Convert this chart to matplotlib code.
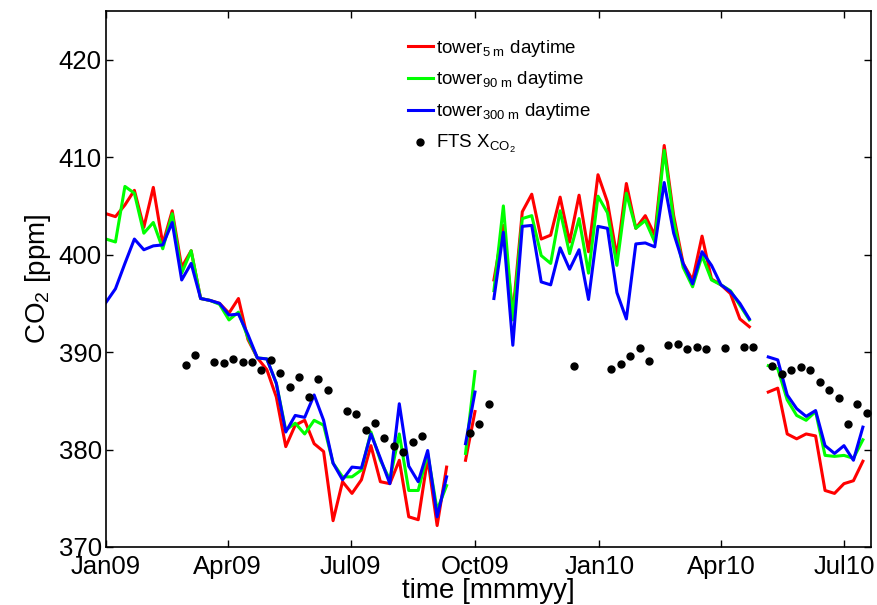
import numpy as np
import pandas as pd
import matplotlib
matplotlib.use('Agg')
import matplotlib.pyplot as plt
import matplotlib.dates as mdates

plt.rcParams['font.family'] = ['Liberation Sans', 'DejaVu Sans']
plt.rcParams['mathtext.fontset'] = 'custom'
plt.rcParams['mathtext.rm'] = 'Liberation Sans'
plt.rcParams['mathtext.it'] = 'Liberation Sans:italic'
plt.rcParams['mathtext.bf'] = 'Liberation Sans:bold'

nan = np.nan

# tower data, weekly from 2009-01-01 (gaps = nan)
t_start = '2009-01-01'
n_weeks = 81

co2_5m = [404.2, 403.9, 405.1, 406.6, 402.8, 406.9, 401.1, 404.5, 398.7, 400.4,
          395.5, 395.3, 395.0, 394.0, 395.5, 391.3, 389.4, 388.2, 385.4, 380.3,
          382.5, 383.0, 380.6, 379.8, 372.7, 376.7, 375.5, 376.9, 380.4, 376.7,
          376.5, 378.9, 373.1, 372.8, 379.1, 372.2, 378.2, nan, 378.9, 383.9,
          nan, 397.4, 403.0, 393.9, 404.4, 406.2, 401.6, 402.0, 405.9, 401.3,
          406.1, 400.3, 408.2, 405.4, 399.8, 407.3, 402.7, 404.0, 402.0, 411.2,
          404.0, 399.1, 397.4, 401.9, 397.5, 396.9, 396.0, 393.4, 392.6, nan,
          385.9, 386.3, 381.6, 381.1, 381.6, 381.4, 375.8, 375.5, 376.5, 376.8,
          378.8]

co2_90m = [401.6, 401.3, 407.0, 406.3, 402.2, 403.3, 400.6, 404.2, 398.1, 400.4,
           395.5, 395.3, 394.9, 393.3, 394.1, 391.5, 389.4, 389.3, 386.8, 382.0,
           382.7, 381.6, 383.0, 382.5, 378.6, 377.2, 377.2, 377.9, 381.8, 378.9,
           376.9, 381.6, 375.8, 375.8, 379.6, 373.8, 376.3, nan, 379.6, 388.0,
           nan, 396.3, 405.0, 393.3, 403.7, 404.0, 399.9, 399.1, 404.5, 400.1,
           403.7, 398.1, 406.0, 404.3, 398.9, 406.3, 402.7, 403.5, 401.3, 410.7,
           403.5, 398.7, 396.7, 399.9, 397.4, 396.9, 396.3, 394.8, 393.3, nan,
           388.6, 388.3, 385.1, 383.5, 383.0, 383.9, 379.4, 379.3, 379.4, 379.1,
           381.0]

co2_300m = [395.1, 396.5, 399.1, 401.6, 400.5, 400.9, 401.0, 403.3, 397.4, 399.1,
            395.5, 395.3, 395.0, 393.8, 393.9, 391.8, 389.4, 389.3, 386.8, 381.8,
            383.5, 383.3, 385.6, 383.0, 378.6, 376.9, 378.2, 378.1, 381.6, 379.1,
            376.5, 384.7, 378.3, 376.7, 379.9, 373.1, 377.2, nan, 380.6, 385.9,
            nan, 395.5, 402.3, 390.7, 402.9, 403.0, 397.2, 396.9, 400.7, 398.5,
            400.5, 395.4, 402.9, 402.7, 396.1, 393.4, 401.1, 401.2, 400.8, 407.4,
            402.2, 399.1, 397.0, 400.3, 398.9, 396.9, 396.2, 395.0, 393.4, nan,
            389.5, 389.2, 385.6, 384.2, 383.4, 384.0, 380.4, 379.6, 380.4, 378.9,
            382.3]

# FTS XCO2
fts_dates = ['2009-03-01', '2009-03-08', '2009-03-22', '2009-03-29', '2009-04-05',
             '2009-04-12', '2009-04-19', '2009-04-26', '2009-05-03', '2009-05-10',
             '2009-05-17', '2009-05-24', '2009-05-31', '2009-06-07', '2009-06-14',
             '2009-06-28', '2009-07-05', '2009-07-12', '2009-07-19', '2009-07-26',
             '2009-08-02', '2009-08-09', '2009-08-16', '2009-08-23', '2009-09-27',
             '2009-10-04', '2009-10-11', '2009-12-13', '2010-01-10', '2010-01-17',
             '2010-01-24', '2010-01-31', '2010-02-07', '2010-02-21', '2010-02-28',
             '2010-03-07', '2010-03-14', '2010-03-21', '2010-04-04', '2010-04-18',
             '2010-04-25', '2010-05-09', '2010-05-16', '2010-05-23', '2010-05-30',
             '2010-06-06', '2010-06-13', '2010-06-20', '2010-06-27', '2010-07-04',
             '2010-07-11', '2010-07-18']
fts_xco2 = [388.7, 389.7, 389.0, 388.9, 389.3, 389.0, 389.0, 388.2, 389.2, 387.9,
            386.4, 387.4, 385.4, 387.2, 386.1, 384.0, 383.6, 382.0, 382.7, 381.2,
            380.4, 379.7, 380.8, 381.4, 381.7, 382.6, 384.7, 388.6, 388.3, 388.8,
            389.6, 390.4, 389.1, 390.7, 390.8, 390.3, 390.5, 390.3, 390.4, 390.5,
            390.5, 388.6, 387.8, 388.2, 388.5, 388.2, 386.9, 386.1, 385.3, 382.6,
            384.7, 383.7]

t = pd.date_range(t_start, periods=n_weeks, freq='7D')
fts_t = pd.to_datetime(fts_dates)

fig = plt.figure(figsize=(8.77, 6.05), dpi=100)
ax = fig.add_axes([106/877, 1-547/605, 765/877, 536/605])

ax.plot(t, co2_5m, color='#ff0000', lw=2.2, label='tower$_{\\mathrm{5\\ m}}$ daytime')
ax.plot(t, co2_90m, color='#00ff00', lw=2.2, label='tower$_{\\mathrm{90\\ m}}$ daytime')
ax.plot(t, co2_300m, color='#0000ff', lw=2.2, label='tower$_{\\mathrm{300\\ m}}$ daytime')
ax.plot(fts_t, fts_xco2, 'k.', ms=10, label='FTS X$_{\\mathrm{CO_2}}$')

ax.set_xlim(pd.Timestamp('2009-01-01'), pd.Timestamp('2010-07-21'))
ax.set_ylim(370, 425)
ax.set_yticks([370, 380, 390, 400, 410, 420])
ax.xaxis.set_major_locator(mdates.MonthLocator(bymonth=[1, 4, 7, 10]))
ax.xaxis.set_major_formatter(mdates.DateFormatter('%b%y'))

ax.tick_params(direction='in', length=5, width=1, labelsize=18.5,
               top=True, right=True)
ax.tick_params(axis='x', pad=6)
ax.tick_params(axis='y', pad=3)
for s in ax.spines.values():
    s.set_linewidth(1.2)

ax.set_xlabel('time [mmmyy]', fontsize=20, labelpad=-1)
ax.set_ylabel('CO$_2$ [ppm]', fontsize=20, labelpad=4)

ax.legend(loc='upper left', bbox_to_anchor=(0.465, 0.938), bbox_transform=fig.transFigure,
          frameon=False, fontsize=13.5, handlelength=1.35, handletextpad=0.15,
          labelspacing=0.58, borderpad=0, borderaxespad=0)

fig.savefig('out.png', dpi=100)
